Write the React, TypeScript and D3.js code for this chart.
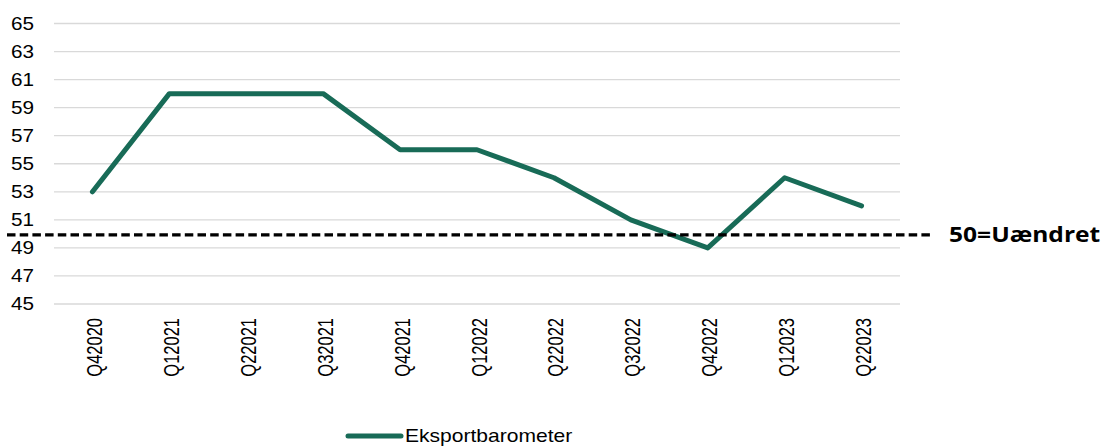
import { useEffect, useRef } from "react";
import * as d3 from "d3";

const quarters = ["Q42020", "Q12021", "Q22021", "Q32021", "Q42021", "Q12022", "Q22022", "Q32022", "Q42022", "Q12023", "Q22023"];
const eksport = [53, 60, 60, 60, 56, 56, 54, 51, 49, 54, 52];
const yTicks = [45, 47, 49, 51, 53, 55, 57, 59, 61, 63, 65];
const baseline = 50;
const baselineLabel = "50=Uændret";
const seriesName = "Eksportbarometer";

const W = 1117;
const H = 446;
// the original picture is a bit wider than tall, text looks stretched sideways
const sx = 1.15;

export default function App() {
  const ref = useRef<SVGSVGElement | null>(null);

  useEffect(() => {
    const svg = d3.select(ref.current);
    svg.selectAll("*").remove();

    const x = d3.scaleBand().domain(quarters).range([54, 900]);
    const y = d3.scaleLinear().domain([45, 65]).range([304, 23.5]);
    const cx = (d: string) => (x(d) as number) + x.bandwidth() / 2;

    // gridlines
    svg.append("g")
      .selectAll("line")
      .data(yTicks)
      .enter()
      .append("line")
      .attr("x1", 54)
      .attr("x2", 900)
      .attr("y1", d => y(d))
      .attr("y2", d => y(d))
      .attr("stroke", "#d9d9d9")
      .attr("stroke-width", 1.3);

    // y labels
    svg.append("g")
      .selectAll("text")
      .data(yTicks)
      .enter()
      .append("text")
      .attr("transform", d => `translate(34,${y(d)}) scale(${sx},1)`)
      .attr("dy", "0.35em")
      .attr("text-anchor", "end")
      .attr("font-family", "Liberation Sans, Arial, sans-serif")
      .attr("font-size", 18)
      .attr("fill", "#000")
      .text(d => d);

    // x labels
    svg.append("g")
      .selectAll("text")
      .data(quarters)
      .enter()
      .append("text")
      .attr("transform", d => `translate(${cx(d) + 9.5},318) scale(1.3,1) rotate(-90)`)
      .attr("text-anchor", "end")
      .attr("font-family", "Liberation Sans, Arial, sans-serif")
      .attr("font-size", 16.5)
      .attr("fill", "#000")
      .text(d => d);

    // series
    const line = d3.line<number>()
      .x((_, i) => cx(quarters[i]))
      .y(d => y(d));
    svg.append("path")
      .attr("d", line(eksport))
      .attr("fill", "none")
      .attr("stroke", "#186b57")
      .attr("stroke-width", 5)
      .attr("stroke-linecap", "round")
      .attr("stroke-linejoin", "round");

    // 50 line
    svg.append("line")
      .attr("x1", 7)
      .attr("x2", 930)
      .attr("y1", y(baseline) + 1)
      .attr("y2", y(baseline) + 1)
      .attr("stroke", "#000")
      .attr("stroke-width", 3.3)
      .attr("stroke-dasharray", "8.5,4.2");
    svg.append("text")
      .attr("transform", `translate(949,${y(baseline) + 1}) scale(1.17,1)`)
      .attr("dy", "0.35em")
      .attr("font-family", "Open Sans, sans-serif")
      .attr("font-weight", "bold")
      .attr("font-size", 21)
      .attr("fill", "#000")
      .text(baselineLabel);

    // legend
    svg.append("line")
      .attr("x1", 348)
      .attr("x2", 401)
      .attr("y1", 436)
      .attr("y2", 436)
      .attr("stroke", "#186b57")
      .attr("stroke-width", 5)
      .attr("stroke-linecap", "round");
    svg.append("text")
      .attr("transform", `translate(405,436) scale(1.17,1)`)
      .attr("dy", "0.35em")
      .attr("font-family", "Liberation Sans, Arial, sans-serif")
      .attr("font-size", 18)
      .attr("fill", "#000")
      .text(seriesName);
  }, []);

  return (
    <svg ref={ref} width={W} height={H} style={{ position: "absolute", left: 0, top: 0, background: "#fff" }} />
  );
}
